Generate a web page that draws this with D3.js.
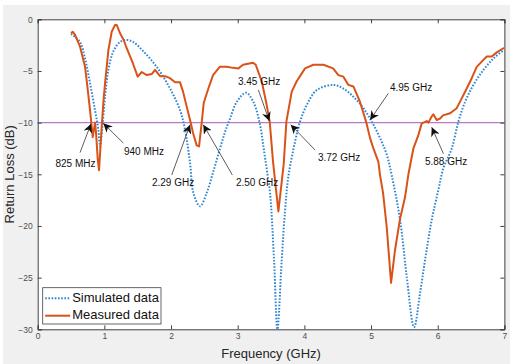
<!DOCTYPE html>
<html>
<head>
<meta charset="utf-8">
<script src="https://cdn.jsdelivr.net/npm/d3@7"></script>
<style>
  body { margin: 0; background: #fff; }
  svg { display: block; font-family: "Liberation Sans", Arial, sans-serif; }
</style>
</head>
<body>
<div id="chart"></div>
<script>
// frequency (GHz), return loss (dB)
const measured = [
  [0.50, -1.35], [0.525, -1.2], [0.56, -1.5], [0.635, -2.65], [0.71, -4.6], [0.745, -6.5],
  [0.785, -8.8], [0.81, -10.4], [0.825, -11.4], [0.845, -10.6], [0.86, -10.0], [0.875, -11.0],
  [0.90, -13.5], [0.92, -14.6], [0.94, -12.5], [0.96, -10.4], [0.985, -8.0], [1.01, -6.2],
  [1.06, -3.0], [1.11, -1.2], [1.16, -0.55], [1.185, -0.55], [1.235, -1.35], [1.29, -2.0],
  [1.335, -2.8], [1.43, -4.3], [1.50, -5.55], [1.56, -5.1], [1.635, -5.4], [1.71, -5.3],
  [1.76, -4.9], [1.835, -5.5], [1.91, -5.5], [1.985, -5.7], [2.06, -6.1], [2.135, -6.1],
  [2.18, -7.0], [2.235, -8.45], [2.295, -10.0], [2.33, -11.0], [2.385, -12.2], [2.42, -12.3],
  [2.46, -10.0], [2.49, -8.1], [2.56, -6.7], [2.63, -5.4], [2.73, -4.6], [2.835, -4.6],
  [2.93, -4.7], [3.01, -4.75], [3.08, -4.4], [3.23, -4.2], [3.27, -4.4], [3.36, -6.0],
  [3.435, -8.3], [3.48, -9.9], [3.53, -13.8], [3.61, -18.6], [3.69, -14.0], [3.73, -9.9],
  [3.81, -7.0], [3.885, -6.0], [4.01, -4.75], [4.135, -4.4], [4.285, -4.4], [4.43, -4.75],
  [4.51, -5.4], [4.585, -5.55], [4.66, -6.35], [4.735, -6.5], [4.835, -8.0], [4.925, -9.9],
  [4.985, -11.5], [5.035, -12.5], [5.11, -13.8], [5.135, -15.1], [5.18, -16.8], [5.235, -20.1],
  [5.30, -25.5], [5.36, -22.3], [5.435, -19.3], [5.51, -17.2], [5.56, -15.0], [5.635, -12.5],
  [5.71, -11.2], [5.76, -10.07], [5.835, -9.85], [5.86, -10.0], [5.91, -9.4], [5.935, -9.2],
  [5.985, -9.75], [6.035, -9.6], [6.08, -9.3], [6.185, -9.1], [6.285, -8.6], [6.36, -7.65],
  [6.435, -6.7], [6.51, -5.7], [6.585, -4.6], [6.66, -4.1], [6.735, -3.6], [6.81, -3.6],
  [6.885, -3.2], [6.985, -2.8], [7.0, -2.8]
];

const simulated = [
  [0.50, -1.4], [0.635, -2.2], [0.71, -3.8], [0.785, -6.2], [0.86, -8.8], [0.91, -10.7],
  [0.935, -12.3], [0.97, -10.4], [1.01, -7.5], [1.06, -4.9], [1.135, -3.1], [1.235, -2.2],
  [1.335, -2.0], [1.435, -2.2], [1.585, -3.1], [1.785, -4.6], [1.985, -6.7], [2.135, -8.8],
  [2.21, -10.7], [2.285, -13.9], [2.335, -16.8], [2.435, -18.1], [2.535, -16.8], [2.635, -14.7],
  [2.735, -12.5], [2.81, -10.9], [2.885, -9.6], [2.985, -8.0], [3.125, -7.1], [3.235, -8.0],
  [3.335, -10.2], [3.385, -12.3], [3.435, -14.5], [3.485, -16.8], [3.545, -23.3], [3.595, -30.0],
  [3.66, -23.3], [3.71, -18.5], [3.76, -15.2], [3.86, -11.85], [3.935, -9.9], [4.035, -8.3],
  [4.185, -6.85], [4.435, -6.35], [4.585, -6.7], [4.735, -7.5], [4.885, -8.6], [5.01, -9.9],
  [5.135, -11.5], [5.235, -13.1], [5.31, -15.1], [5.435, -19.4], [5.535, -24.9], [5.645, -29.8],
  [5.735, -26.5], [5.81, -23.3], [5.91, -19.4], [6.01, -16.5], [6.085, -14.4], [6.21, -12.5],
  [6.31, -9.9], [6.41, -8.0], [6.535, -6.35], [6.685, -4.9], [6.835, -3.8], [6.985, -3.0]
];

const threshold = -10;
const xTicks = [0, 1, 2, 3, 4, 5, 6, 7];
const yTicks = [-30, -25, -20, -15, -10, -5, 0];

// label, arrow tip, arrow tail, text centre (GHz, dB)
const annotations = [
  { label: '825 MHz', tip: [0.80, -10.1], tail: [0.635, -12.9], text: [0.567, -14.0] },
  { label: '940 MHz', tip: [0.984, -10.07], tail: [1.284, -11.97], text: [1.594, -12.85] },
  { label: '2.29 GHz', tip: [2.285, -10.2], tail: [2.01, -15.07], text: [2.03, -15.9] },
  { label: '2.50 GHz', tip: [2.484, -10.2], tail: [2.92, -15.07], text: [3.29, -15.9] },
  { label: '3.45 GHz', tip: [3.474, -9.85], tail: [3.31, -6.84], text: [3.32, -6.14] },
  { label: '3.72 GHz', tip: [3.795, -10.2], tail: [4.16, -12.65], text: [4.52, -13.5] },
  { label: '4.95 GHz', tip: [4.985, -9.75], tail: [5.26, -7.16], text: [5.6, -6.68] },
  { label: '5.88 GHz', tip: [5.91, -10.45], tail: [6.085, -13.0], text: [6.125, -13.8] }
];

const series = [
  { name: 'Simulated data', data: simulated, color: '#2f86d2', dash: '1.6,1.6', width: 2, curve: d3.curveCatmullRom.alpha(0.5) },
  { name: 'Measured data', data: measured, color: '#d95319', dash: null, width: 2, curve: d3.curveLinear }
];

const width = 516, height = 364;
const margin = { top: 19.3, right: 12, bottom: 35, left: 37.7 };
const plotW = 504.4 - margin.left, plotH = 329.3 - margin.top;
const axisColor = '#404040';

const svg = d3.select('#chart').append('svg')
  .attr('width', width).attr('height', height);

svg.append('rect').attr('x', 3).attr('y', 5).attr('width', 507).attr('height', height - 5)
  .attr('fill', '#f0f0f0');

const x = d3.scaleLinear().domain([0, 7]).range([0, plotW]);
const y = d3.scaleLinear().domain([-30, 0]).range([plotH, 0]);

const g = svg.append('g').attr('transform', `translate(${margin.left},${margin.top})`);

g.append('rect').attr('width', plotW).attr('height', plotH).attr('fill', '#fff');

svg.append('defs').append('clipPath').attr('id', 'clip')
  .append('rect').attr('width', plotW).attr('height', plotH + 1).attr('y', -1);

svg.select('defs').append('marker')
  .attr('id', 'head').attr('viewBox', '0 0 10 10')
  .attr('refX', 10).attr('refY', 5)
  .attr('markerWidth', 9).attr('markerHeight', 9)
  .attr('markerUnits', 'userSpaceOnUse')
  .attr('orient', 'auto')
  .append('path').attr('d', 'M0,0 L10,5 L0,10 L3,5 Z').attr('fill', '#111');

// threshold line
g.append('line')
  .attr('x1', 0).attr('x2', plotW)
  .attr('y1', y(threshold)).attr('y2', y(threshold))
  .attr('stroke', '#b47cc7').attr('stroke-width', 1.2);

const plot = g.append('g').attr('clip-path', 'url(#clip)');

series.forEach(s => {
  const line = d3.line().x(d => x(d[0])).y(d => y(d[1])).curve(s.curve);
  plot.append('path').datum(s.data)
    .attr('d', line)
    .attr('fill', 'none')
    .attr('stroke', s.color)
    .attr('stroke-width', s.width)
    .attr('stroke-dasharray', s.dash)
    .attr('stroke-linejoin', 'round');
});

// axes with MATLAB-style inward ticks
const tickLen = 4;
const fmt = d3.format('d');
const xAxisB = d3.axisBottom(x).tickValues(xTicks).tickSize(-tickLen).tickPadding(3.5).tickFormat(fmt);
const xAxisT = d3.axisTop(x).tickValues(xTicks).tickSize(-tickLen).tickFormat('');
const yAxisL = d3.axisLeft(y).tickValues(yTicks).tickSize(-tickLen).tickPadding(5).tickFormat(fmt);
const yAxisR = d3.axisRight(y).tickValues(yTicks).tickSize(-tickLen).tickFormat('');

function styleAxis(sel) {
  sel.select('.domain').attr('stroke', axisColor);
  sel.selectAll('.tick line').attr('stroke', axisColor);
  sel.selectAll('.tick text').attr('fill', '#4d4d4d').attr('font-size', 8.5)
    .attr('font-family', '"Liberation Sans", Arial, sans-serif');
}

g.append('g').attr('transform', `translate(0,${plotH})`).call(xAxisB).call(styleAxis);
g.append('g').call(xAxisT).call(styleAxis);
g.append('g').call(yAxisL).call(styleAxis);
g.append('g').attr('transform', `translate(${plotW},0)`).call(yAxisR).call(styleAxis);

// annotations
const ann = g.append('g');
annotations.forEach(a => {
  ann.append('line')
    .attr('x1', x(a.tail[0])).attr('y1', y(a.tail[1]))
    .attr('x2', x(a.tip[0])).attr('y2', y(a.tip[1]))
    .attr('stroke', '#333').attr('stroke-width', 0.8)
    .attr('marker-end', 'url(#head)');
  ann.append('text')
    .attr('x', x(a.text[0])).attr('y', y(a.text[1]))
    .attr('text-anchor', 'middle').attr('dominant-baseline', 'middle')
    .attr('font-size', 10).attr('fill', '#111')
    .text(a.label);
});

// axis labels
svg.append('text')
  .attr('x', margin.left + plotW / 2).attr('y', 357.5)
  .attr('text-anchor', 'middle').attr('font-size', 13).attr('fill', '#262626')
  .text('Frequency (GHz)');

svg.append('text')
  .attr('transform', `translate(14,${margin.top + plotH / 2}) rotate(-90)`)
  .attr('text-anchor', 'middle').attr('font-size', 13).attr('fill', '#262626')
  .text('Return Loss (dB)');

// legend
const legend = svg.append('g').attr('transform', 'translate(42.7,287.7)');
legend.append('rect').attr('width', 118.3).attr('height', 36.3)
  .attr('fill', '#fff').attr('stroke', axisColor).attr('stroke-width', 0.8);
series.forEach((s, i) => {
  const yy = 10.6 + i * 17.4;
  legend.append('line')
    .attr('x1', 2.5).attr('x2', 27.5).attr('y1', yy).attr('y2', yy)
    .attr('stroke', s.color).attr('stroke-width', s.width)
    .attr('stroke-dasharray', s.dash);
  legend.append('text')
    .attr('x', 29.5).attr('y', yy).attr('dominant-baseline', 'middle')
    .attr('font-size', 13).attr('fill', '#111')
    .text(s.name);
});
</script>
</body>
</html>
